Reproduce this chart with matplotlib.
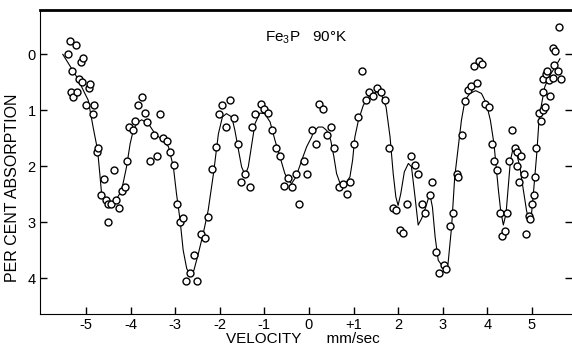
import matplotlib
matplotlib.use('Agg')
import matplotlib.pyplot as plt

plt.rcParams['font.family'] = ['Liberation Sans', 'DejaVu Sans']
plt.rcParams['mathtext.default'] = 'regular'

#Measured points (velocity mm/sec, per cent absorption)
vel = [-5.41, -5.36, -5.34, -5.31, -5.28, -5.23, -5.21, -5.16, -5.12, -5.08, -5.06, -5.01,
       -4.93, -4.90, -4.85, -4.81, -4.75, -4.72, -4.66, -4.60, -4.55, -4.51, -4.50, -4.43,
       -4.37, -4.33, -4.25, -4.20, -4.13, -4.07, -4.04, -3.95, -3.89, -3.83, -3.75, -3.68,
       -3.63, -3.56, -3.47, -3.41, -3.33, -3.27, -3.18, -3.11, -3.03, -2.95, -2.89, -2.82,
       -2.75, -2.66, -2.57, -2.50, -2.43, -2.34, -2.26, -2.17, -2.09, -2.02, -1.94, -1.85,
       -1.76, -1.68, -1.60, -1.52, -1.44, -1.33, -1.28, -1.20, -1.08, -1.00, -0.91, -0.82,
       -0.74, -0.64, -0.57, -0.46, -0.38, -0.28, -0.22, -0.12, -0.04, 0.06, 0.15, 0.22,
       0.31, 0.41, 0.49, 0.57, 0.67, 0.76, 0.86, 0.93, 1.01, 1.11, 1.20, 1.28,
       1.35, 1.44, 1.53, 1.61, 1.70, 1.80, 1.88, 1.95, 2.04, 2.12, 2.21, 2.29,
       2.38, 2.45, 2.54, 2.61, 2.71, 2.77, 2.86, 2.92, 3.03, 3.07, 3.16, 3.24,
       3.31, 3.35, 3.43, 3.51, 3.57, 3.63, 3.70, 3.77, 3.82, 3.89, 3.95, 4.03,
       4.10, 4.14, 4.22, 4.29, 4.34, 4.39, 4.45, 4.49, 4.55, 4.62, 4.66, 4.66,
       4.72, 4.75, 4.82, 4.87, 4.93, 4.96, 5.00, 5.04, 5.08, 5.09, 5.17, 5.21,
       5.24, 5.26, 5.26, 5.30, 5.32, 5.34, 5.39, 5.41, 5.47, 5.47, 5.49, 5.52,
       5.58, 5.60, 5.66]
absorp = [0.00, -0.24, 0.68, 0.30, 0.77, -0.16, 0.68, 0.44, 0.13, 0.49, 0.07, 0.90,
          0.61, 0.53, 1.07, 0.90, 1.74, 1.67, 2.52, 2.23, 2.61, 2.67, 2.99, 2.68,
          2.07, 2.61, 2.74, 2.45, 2.37, 1.91, 1.30, 1.36, 1.20, 0.91, 0.77, 1.05,
          1.21, 1.91, 1.45, 1.82, 1.07, 1.49, 1.55, 1.74, 1.98, 2.67, 2.99, 2.92,
          4.05, 3.91, 3.59, 4.05, 3.21, 3.29, 2.91, 2.05, 1.65, 1.07, 0.91, 1.29,
          0.82, 1.13, 1.60, 2.29, 2.14, 2.37, 1.30, 1.07, 0.89, 0.98, 1.05, 1.36,
          1.67, 1.82, 2.35, 2.21, 2.37, 2.14, 2.67, 1.90, 2.13, 1.36, 1.60, 0.89,
          0.98, 1.45, 1.29, 1.67, 2.37, 2.32, 2.50, 2.28, 1.60, 1.12, 0.30, 0.82,
          0.67, 0.74, 0.60, 0.67, 0.82, 1.67, 2.74, 2.79, 3.13, 3.20, 2.67, 1.82,
          1.98, 2.13, 2.67, 2.83, 2.51, 2.28, 3.53, 3.90, 3.77, 3.84, 3.07, 2.83,
          2.13, 2.20, 1.45, 0.83, 0.63, 0.57, 0.21, 0.51, 0.12, 0.17, 0.89, 0.95,
          1.60, 1.90, 2.06, 2.83, 3.25, 3.15, 2.83, 1.90, 1.36, 1.68, 1.74, 1.99,
          2.29, 1.82, 2.13, 3.21, 2.89, 2.95, 2.67, 2.52, 2.20, 1.67, 1.04, 1.19,
          0.68, 1.00, 0.45, 0.95, 0.36, 0.29, 0.46, 0.74, 0.42, -0.12, 0.20, -0.06,
          0.29, -0.49, 0.45]

#Fitted curve
fit_vel = [-5.52, -5.21, -4.95, -4.84, -4.74, -4.69, -4.65, -4.54, -4.42, -4.31, -4.20, -4.09,
           -4.01, -3.94, -3.85, -3.75, -3.60, -3.45, -3.30, -3.15, -3.04, -2.97, -2.89, -2.82,
           -2.74, -2.67, -2.58, -2.48, -2.37, -2.26, -2.14, -2.03, -1.94, -1.85, -1.73, -1.66,
           -1.58, -1.51, -1.43, -1.36, -1.28, -1.21, -1.10, -0.99, -0.87, -0.76, -0.65, -0.54,
           -0.46, -0.39, -0.29, -0.16, -0.05, 0.06, 0.10, 0.21, 0.31, 0.40, 0.49, 0.56,
           0.62, 0.70, 0.81, 0.92, 0.98, 1.03, 1.11, 1.22, 1.37, 1.52, 1.63, 1.73,
           1.82, 1.89, 1.95, 2.00, 2.06, 2.14, 2.23, 2.30, 2.38, 2.45, 2.53, 2.62,
           2.71, 2.77, 2.83, 2.90, 3.01, 3.12, 3.20, 3.27, 3.35, 3.42, 3.50, 3.61,
           3.74, 3.87, 3.98, 4.07, 4.15, 4.25, 4.30, 4.36, 4.42, 4.47, 4.52, 4.58,
           4.64, 4.73, 4.81, 4.88, 4.94, 4.99, 5.04, 5.11, 5.16, 5.22, 5.29, 5.40,
           5.52, 5.63]
fit_abs = [0.00, 0.40, 0.82, 1.30, 1.71, 2.13, 2.49, 2.64, 2.65, 2.58, 2.43, 2.01,
           1.60, 1.36, 1.22, 1.17, 1.24, 1.42, 1.52, 1.65, 2.01, 2.49, 2.96, 3.50,
           3.83, 3.92, 3.86, 3.56, 3.20, 2.79, 2.13, 1.42, 1.12, 1.06, 1.12, 1.36,
           1.71, 2.01, 2.16, 2.01, 1.60, 1.24, 1.05, 1.06, 1.21, 1.54, 1.83, 2.13,
           2.25, 2.31, 2.19, 1.89, 1.65, 1.48, 1.39, 1.30, 1.30, 1.36, 1.54, 1.83,
           2.13, 2.31, 2.32, 2.19, 1.89, 1.48, 1.18, 0.91, 0.73, 0.67, 0.73, 0.94,
           1.48, 2.13, 2.55, 2.70, 2.49, 2.10, 1.95, 2.01, 2.55, 3.05, 2.93, 2.73,
           2.49, 2.73, 3.26, 3.68, 3.80, 3.74, 3.08, 2.19, 1.65, 1.18, 0.82, 0.70,
           0.65, 0.70, 0.88, 1.18, 1.60, 2.43, 2.79, 3.05, 2.85, 2.37, 1.89, 1.68,
           1.71, 2.01, 2.43, 2.79, 2.99, 2.87, 2.43, 1.77, 1.18, 0.88, 0.58, 0.38,
           0.23, 0.08]

xticks      = [-5, -4, -3, -2, -1, 0, 1, 2, 3, 4, 5]
xticklabels = ['-5', '-4', '-3', '-2', '-1', '0', '+1', '2', '3', '4', '5']
yticks      = [0, 1, 2, 3, 4]

fig = plt.figure(figsize=(5.72, 3.47), dpi=100)
ax = fig.add_axes([0.070, 0.095, 0.930, 0.876])

ax.plot(fit_vel, fit_abs, color='black', linewidth=0.8)
ax.plot(vel, absorp, linestyle='none', marker='o', markersize=5,
        markerfacecolor='white', markeredgecolor='black', markeredgewidth=1.0)

ax.set_xlim(-6.03, 5.90)
ax.set_ylim(4.64, -0.79)
ax.set_xticks(xticks)
ax.set_xticklabels(xticklabels)
ax.set_yticks(yticks)
ax.tick_params(direction='in', length=5, width=1, labelsize=10.5, right=True, pad=3)

ax.spines['right'].set_visible(False)
ax.spines['top'].set_linewidth(2)

ax.text(-0.99, -0.29, 'Fe$_3$P   90°K', fontsize=11, va='center', ha='left')

fig.text(0.021, 0.46, 'PER CENT ABSORPTION', rotation=90, fontsize=11.5, ha='center', va='center')
fig.text(0.53, 0.022, 'VELOCITY      mm/sec', fontsize=11, ha='center', va='center')

fig.savefig('out.png', dpi=100)
